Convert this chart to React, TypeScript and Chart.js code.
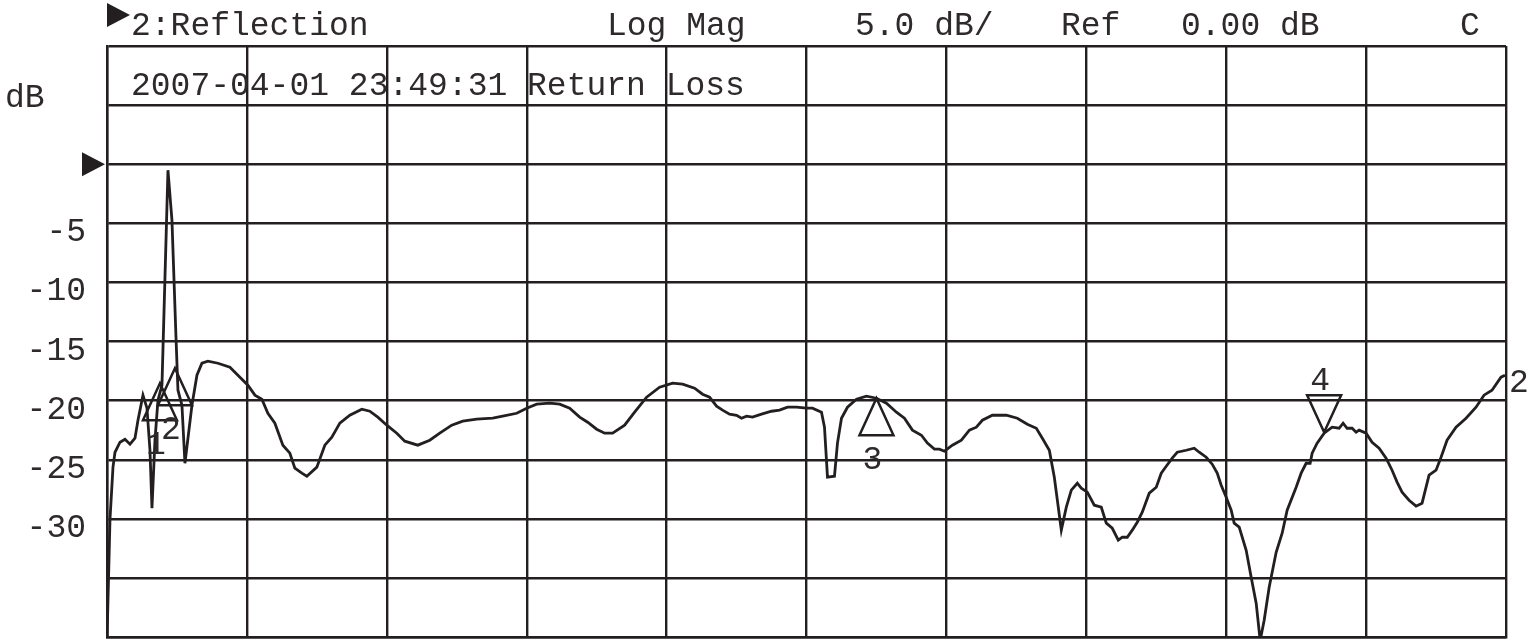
import React, { useEffect, useRef } from 'react';
import { Chart, registerables } from 'chart.js';

Chart.register(...registerables);

// Sweep position (arbitrary sweep units, 0..1400 across the 10 divisions)
const traceX = [
  0, 3, 6, 8, 13, 18, 23, 28, 31, 36,
  40, 43, 45, 48, 51, 55, 61, 65, 69, 71,
  75, 78, 85, 90, 95, 101, 111, 123, 133, 141,
  148, 155, 161, 168, 176, 183, 188, 195, 200, 210,
  218, 225, 233, 243, 255, 263, 271, 280, 290, 298,
  311, 323, 333, 345, 356, 370, 386, 396, 410, 420,
  430, 443, 453, 463, 473, 481, 490, 498, 506, 518,
  528, 540, 553, 566, 576, 588, 596, 603, 610, 616,
  623, 630, 635, 640, 646, 655, 665, 673, 681, 690,
  700, 706, 715, 718, 721, 728, 731, 735, 741, 750,
  760, 770, 780, 790, 798, 806, 815, 821, 828, 833,
  838, 846, 855, 863, 870, 876, 886, 900, 911, 921,
  930, 936, 943, 948, 955, 960, 965, 971, 975, 981,
  988, 995, 1000, 1006, 1012, 1016, 1021, 1026, 1031, 1036,
  1043, 1050, 1055, 1060, 1066, 1071, 1080, 1088, 1093, 1100,
  1106, 1111, 1115, 1120, 1125, 1128, 1133, 1140, 1145, 1150,
  1154, 1158, 1163, 1170, 1176, 1181, 1190, 1195, 1200, 1204,
  1206, 1211, 1218, 1226, 1233, 1237, 1241, 1246, 1250, 1253,
  1260, 1266, 1273, 1280, 1286, 1291, 1296, 1303, 1310, 1316,
  1323, 1330, 1335, 1341, 1350, 1360, 1370, 1378, 1386, 1395,
  1399,
];

// Return loss trace, dB
const returnLossDb = [
  -40.3, -30.03, -25.63, -24.37, -23.52, -23.27, -23.69, -23.18, -21.66, -19.54,
  -20.64, -24.2, -29.1, -23.35, -19.97, -18.7, -0.51, -4.74, -14.55, -19.12,
  -20.39, -25.3, -20.39, -17.85, -16.84, -16.67, -16.84, -17.17, -18.02, -18.7,
  -19.54, -19.88, -21.07, -21.91, -23.77, -24.45, -25.72, -26.14, -26.4, -25.63,
  -23.77, -23.1, -21.91, -21.24, -20.73, -20.9, -21.4, -22.08, -22.76, -23.43,
  -23.77, -23.35, -22.76, -22.08, -21.74, -21.57, -21.49, -21.32, -21.07, -20.64,
  -20.3, -20.22, -20.3, -20.64, -21.4, -21.83, -22.42, -22.76, -22.76, -22.08,
  -20.98, -19.71, -18.87, -18.53, -18.61, -18.95, -19.46, -19.71, -20.47, -20.81,
  -21.15, -21.24, -21.49, -21.32, -21.4, -21.15, -20.9, -20.81, -20.56, -20.56,
  -20.64, -20.64, -20.98, -22.25, -26.48, -26.4, -23.6, -21.49, -20.56, -19.88,
  -19.63, -19.8, -20.22, -20.98, -21.49, -22.5, -22.93, -23.6, -24.11, -24.11,
  -24.28, -23.77, -23.35, -22.5, -22.25, -21.66, -21.24, -21.24, -21.49, -22.0,
  -22.34, -23.18, -24.2, -26.48, -30.96, -29.02, -27.58, -26.99, -27.41, -27.75,
  -28.85, -29.02, -30.37, -30.8, -31.81, -31.56, -31.56, -30.96, -30.29, -29.44,
  -27.83, -27.33, -26.14, -25.55, -24.87, -24.37, -24.2, -24.03, -24.37, -24.79,
  -25.38, -26.14, -27.16, -28.17, -29.27, -30.37, -30.71, -32.66, -34.94, -37.14,
  -40.3, -38.58, -35.79, -32.83, -31.22, -29.27, -27.33, -26.14, -25.3, -25.3,
  -24.45, -23.6, -22.76, -22.25, -22.34, -21.91, -22.34, -22.34, -22.67, -22.5,
  -22.76, -23.52, -24.03, -24.87, -25.89, -26.9, -27.75, -28.43, -28.93, -28.68,
  -26.31, -25.89, -24.79, -23.35, -22.25, -21.49, -20.56, -19.54, -19.12, -18.02,
  -17.85,
];

// Y axis
const yMin = -40;
const yMax = 10;
const yStep = 5;
const yTickLabels = [-5, -10, -15, -20, -25, -30];
const refLevelDb = 0;

// X axis (10 divisions)
const xMin = 0;
const xMax = 1400;
const xStep = 140;

// Markers
const markerIds = ['1', '2', '3', '4'];
const markerX = [53, 68, 770, 1218];
const markerDb = [-18.53, -17.26, -19.8, -22.67];
const markerPointsDown = [false, false, false, true];

// Texts
const headerTexts = ['2:Reflection', 'Log Mag', '5.0 dB/', 'Ref', '0.00 dB', 'C'];
const infoText = '2007-04-01 23:49:31 Return Loss';
const unitText = 'dB';
const traceLabel = '2';

const INK = '#231f20';
const TEXT_INK = '#2e2a2b';
const FONT = '33px "Liberation Mono", "DejaVu Sans Mono", monospace';

const overlayPlugin = {
  id: 'vnaOverlay',
  afterDatasetsDraw(chart: any) {
    const { ctx, scales } = chart;
    const xs = scales.x;
    const ys = scales.y;
    ctx.save();
    ctx.fillStyle = TEXT_INK;
    ctx.strokeStyle = INK;
    ctx.font = FONT;
    ctx.textBaseline = 'alphabetic';

    // header line
    const headerPos = [131, 607, 855, 1061, 1181, 1460];
    ctx.textAlign = 'left';
    headerTexts.forEach((t, i) => ctx.fillText(t, headerPos[i], 35));

    // header arrow
    ctx.fillStyle = INK;
    ctx.beginPath();
    ctx.moveTo(107, 3);
    ctx.lineTo(130, 15);
    ctx.lineTo(107, 27);
    ctx.closePath();
    ctx.fill();
    ctx.fillStyle = TEXT_INK;

    // info text
    ctx.fillText(infoText, 131, 95);

    // unit
    ctx.fillText(unitText, 5, 107);

    // y labels
    ctx.textAlign = 'right';
    yTickLabels.forEach((v) => {
      ctx.fillText(String(v), 86, ys.getPixelForValue(v) + 18);
    });

    // reference arrow
    const ry = ys.getPixelForValue(refLevelDb);
    ctx.fillStyle = INK;
    ctx.beginPath();
    ctx.moveTo(82, ry - 12);
    ctx.lineTo(105, ry);
    ctx.lineTo(82, ry + 12);
    ctx.closePath();
    ctx.fill();
    ctx.fillStyle = TEXT_INK;

    // markers
    ctx.lineWidth = 2.5;
    ctx.lineJoin = 'miter';
    ctx.textAlign = 'center';
    markerIds.forEach((id, i) => {
      const px = xs.getPixelForValue(markerX[i]);
      const py = ys.getPixelForValue(markerDb[i]);
      const h = 37;
      const hw = 17;
      const down = markerPointsDown[i];
      const by = down ? py - h : py + h;
      ctx.beginPath();
      ctx.moveTo(px, py);
      ctx.lineTo(px - hw, by);
      ctx.lineTo(px + hw, by);
      ctx.closePath();
      ctx.stroke();
      if (down) {
        ctx.fillText(id, px - 4, by - 5);
      } else {
        ctx.fillText(id, px - 4, by + 34);
      }
    });

    // trace label at end of trace
    const last = traceX.length - 1;
    const ex = xs.getPixelForValue(traceX[last]);
    const ey = ys.getPixelForValue(returnLossDb[last]);
    ctx.textAlign = 'left';
    ctx.fillText(traceLabel, ex + 4, ey + 17);

    ctx.restore();
  },
};

export default function App() {
  const canvasRef = useRef<HTMLCanvasElement | null>(null);

  useEffect(() => {
    const canvas = canvasRef.current;
    if (!canvas) return;
    const data = traceX.map((x, i) => ({ x, y: returnLossDb[i] }));
    const chart = new Chart(canvas, {
      type: 'line',
      data: {
        datasets: [
          {
            data,
            borderColor: INK,
            borderWidth: 2.8,
            pointRadius: 0,
            tension: 0,
            fill: false,
          },
        ],
      },
      options: {
        animation: false,
        responsive: false,
        devicePixelRatio: 1,
        parsing: false,
        layout: { padding: { left: 107, top: 46, right: 32, bottom: 4 } },
        plugins: {
          legend: { display: false },
          tooltip: { enabled: false },
          title: { display: false },
        },
        scales: {
          x: {
            type: 'linear',
            min: xMin,
            max: xMax,
            ticks: { display: false, stepSize: xStep },
            grid: { color: INK, lineWidth: 2.4, drawTicks: false },
            border: { display: true, color: INK, width: 2.4 },
          },
          y: {
            type: 'linear',
            min: yMin,
            max: yMax,
            ticks: { display: false, stepSize: yStep },
            grid: { color: INK, lineWidth: 2.4, drawTicks: false },
            border: { display: true, color: INK, width: 2.4 },
          },
        },
      },
      plugins: [overlayPlugin],
    });
    return () => chart.destroy();
  }, []);

  return (
    <div style={{ position: 'fixed', left: 0, top: 0, width: 1538, height: 641, background: '#fff' }}>
      <canvas ref={canvasRef} width={1538} height={641} style={{ display: 'block' }} />
    </div>
  );
}
